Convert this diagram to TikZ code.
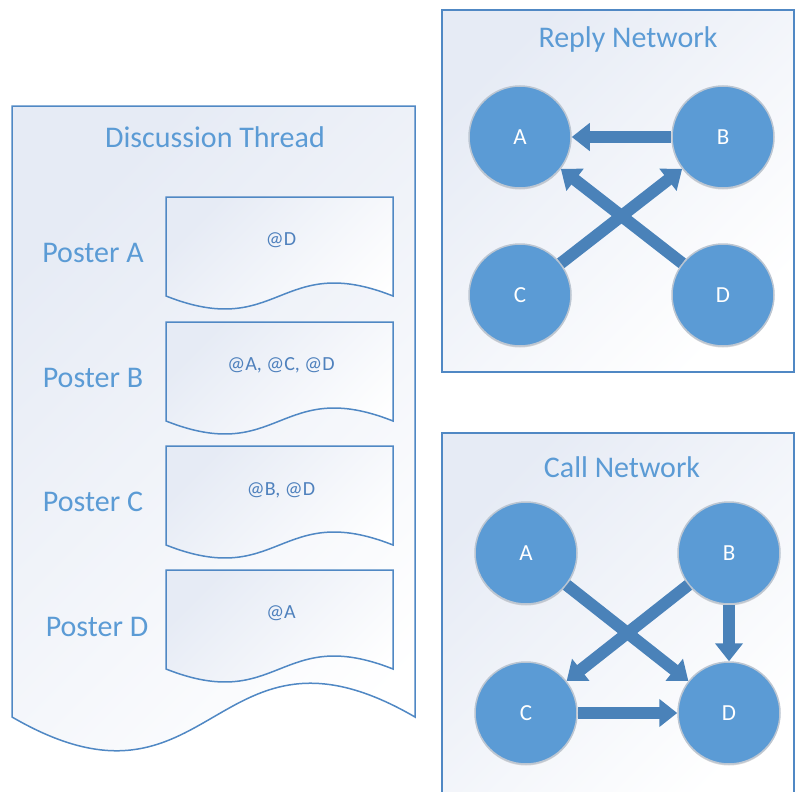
\documentclass[tikz,border=0pt]{standalone}
\usepackage{fontspec}
\setmainfont{Carlito}
\usetikzlibrary{arrows.meta,shadows}

\definecolor{edgeblue}{HTML}{5088C4}
\definecolor{titleblue}{HTML}{5B9BD5}
\definecolor{noteblue}{HTML}{4F81BD}
\definecolor{nodefill}{HTML}{5B9BD5}
\definecolor{nodering}{HTML}{BCC6D2}
\definecolor{arrowblue}{HTML}{4A82B9}
\definecolor{paleblue}{HTML}{E6EBF5}

\begin{document}
\begin{tikzpicture}[x=1pt,y=-1pt,
  panel/.style={draw=edgeblue, line width=1.8pt, top color=paleblue,
    bottom color=white, shading angle=45},
  sheet/.style={draw=edgeblue, line width=1.5pt, top color=paleblue,
    bottom color=white, shading angle=45},
  heading/.style={text=titleblue, font=\fontsize{30}{35}\selectfont},
  poster/.style={text=titleblue, font=\fontsize{30}{35}\selectfont},
  mention/.style={text=noteblue, font=\fontsize{20}{24}\selectfont},
  netnode/.style={circle, minimum size=102pt, inner sep=0pt, fill=nodefill,
    draw=nodering, line width=1.5pt, text=white,
    font=\fontsize{23}{27}\selectfont,
    drop shadow={shadow xshift=0pt, shadow yshift=-1.5pt, opacity=0.25, fill=black!60}},
  blockarrow/.style={draw=arrowblue, line width=12pt,
    -{Triangle[length=18pt, width=27pt]}}
]
\useasboundingbox (0,0) rectangle (795,792);
\clip (0,0) rectangle (795,792);

% ---- discussion thread: a document sheet with a wavy bottom ----
\path[sheet] (12,106) -- (415,106) -- (415,717)
  .. controls (213.5,600) and (213.5,834) .. (12,717) -- cycle;
\node[heading] (thread) at (215,137) {Discussion Thread};

% posts, each a smaller sheet
\foreach \t in {197,322,446,570}{
  \path[sheet] (166,\t) -- (393,\t) -- (393,\t+99)
    .. controls (279.5,\t+54) and (279.5,\t+144) .. (166,\t+99) -- cycle;
}
\node[poster] (posterA) at (93,253) {Poster A};
\node[poster] (posterB) at (93,378) {Poster B};
\node[poster] (posterC) at (93,502) {Poster C};
\node[poster] (posterD) at (97,627) {Poster D};

\node[mention] (noteA) at (281,240) {@D};
\node[mention] (noteB) at (281,365) {@A, @C, @D};
\node[mention] (noteC) at (281,490) {@B, @D};
\node[mention] (noteD) at (281,613) {@A};

% ---- reply network ----
\path[panel] (442,10) rectangle (794,372);
\node[heading] (replytitle) at (628,40) {Reply Network};
\node[netnode] (rA) at (520,137) {A};
\node[netnode] (rB) at (723,137) {B};
\node[netnode] (rC) at (520,295) {C};
\node[netnode] (rD) at (723,295) {D};
\draw[blockarrow] (rB) -- (rA);
\draw[blockarrow] (rD) -- (rA);
\draw[blockarrow] (rC) -- (rB);

% ---- call network ----
\path[panel] (442,433) rectangle (794,810);
\node[heading] (calltitle) at (622,467) {Call Network};
\node[netnode] (cA) at (526,553) {A};
\node[netnode] (cB) at (729,553) {B};
\node[netnode] (cC) at (526,713) {C};
\node[netnode] (cD) at (729,713) {D};
\draw[blockarrow] (cA) -- (cD);
\draw[blockarrow] (cB) -- (cC);
\draw[blockarrow] (cB) -- (cD);
\draw[blockarrow] (cC) -- (cD);
\end{tikzpicture}
\end{document}
